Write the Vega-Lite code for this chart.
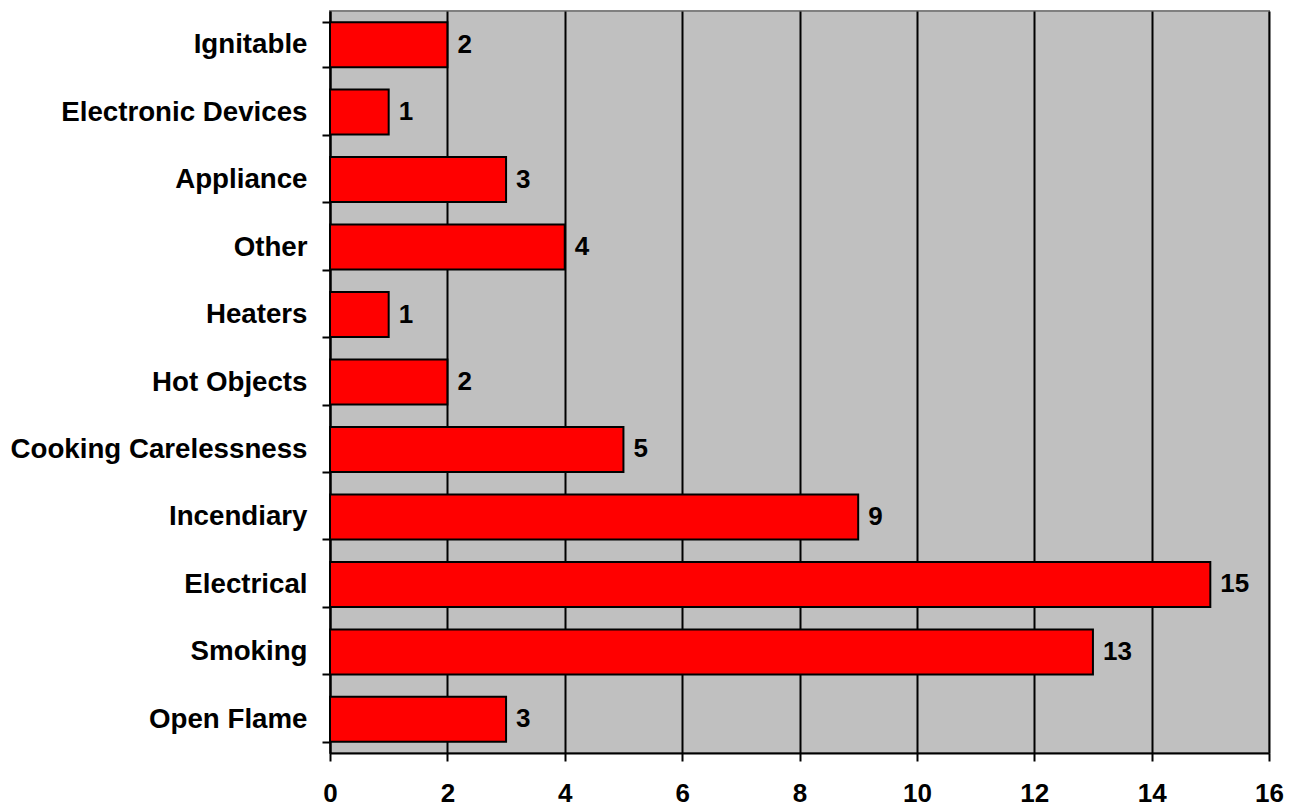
{
  "$schema": "https://vega.github.io/schema/vega-lite/v6.json",
  "autosize": "none",
  "width": 939,
  "height": 742,
  "padding": {"left": 330, "top": 11, "right": 24, "bottom": 58},
  "background": "white",
  "config": {
    "view": {"fill": "#c0c0c0", "stroke": "#808080", "strokeWidth": 2},
    "font": "Liberation Sans"
  },
  "data": {
    "values": [
      {"cause": "Ignitable", "count": 2},
      {"cause": "Electronic Devices", "count": 1},
      {"cause": "Appliance", "count": 3},
      {"cause": "Other", "count": 4},
      {"cause": "Heaters", "count": 1},
      {"cause": "Hot Objects", "count": 2},
      {"cause": "Cooking Carelessness", "count": 5},
      {"cause": "Incendiary", "count": 9},
      {"cause": "Electrical", "count": 15},
      {"cause": "Smoking", "count": 13},
      {"cause": "Open Flame", "count": 3}
    ]
  },
  "encoding": {
    "y": {
      "field": "cause", "type": "nominal", "sort": null,
      "scale": {"paddingInner": 0.333, "paddingOuter": 0.165},
      "axis": {
        "title": null, "domainColor": "black", "domainWidth": 2,
        "tickColor": "black", "tickWidth": 2, "tickSize": 8, "tickBand": "extent",
        "labelFont": "Liberation Sans", "labelFontWeight": "bold", "labelFontSize": 27.7,
        "labelColor": "black", "labelPadding": 15, "labelLimit": 0
      }
    },
    "x": {
      "field": "count", "type": "quantitative",
      "scale": {"domain": [0, 16], "nice": false},
      "axis": {
        "title": null, "values": [0, 2, 4, 6, 8, 10, 12, 14, 16],
        "domainColor": "black", "domainWidth": 2,
        "tickColor": "black", "tickWidth": 2, "tickSize": 8,
        "grid": true, "gridColor": "black", "gridWidth": 2, "gridOpacity": 1,
        "labelFont": "Liberation Sans", "labelFontWeight": "bold", "labelFontSize": 26,
        "labelColor": "black", "labelPadding": 19, "labelFlush": false
      }
    }
  },
  "layer": [
    {
      "mark": {"type": "bar", "color": "#ff0000", "stroke": "black", "strokeWidth": 2}
    },
    {
      "mark": {"type": "text", "align": "left", "baseline": "middle", "dx": 10, "fontWeight": "bold", "fontSize": 26, "color": "black"},
      "encoding": {"text": {"field": "count", "type": "quantitative"}}
    }
  ]
}
